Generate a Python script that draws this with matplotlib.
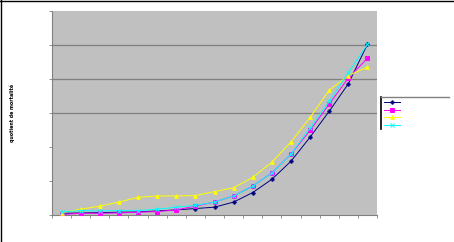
import matplotlib
matplotlib.use("Agg")
import matplotlib.pyplot as plt
import numpy as np
from matplotlib.lines import Line2D

# categories (17 age classes, labels not shown in the reference)
categories = list(range(17))

navy = [0.05, 0.06, 0.07, 0.08, 0.09, 0.12, 0.15, 0.19, 0.23, 0.38, 0.66,
        1.05, 1.58, 2.29, 3.05, 3.86, 5.02]
magenta = [0.01, 0.05, 0.05, 0.06, 0.08, 0.10, 0.15, 0.26, 0.38, 0.56, 0.85,
           1.24, 1.79, 2.49, 3.26, 4.03, 4.61]
yellow = [0.07, 0.17, 0.26, 0.38, 0.52, 0.56, 0.56, 0.57, 0.69, 0.80, 1.11,
          1.55, 2.15, 2.87, 3.67, 4.10, 4.35]
cyan = [0.09, 0.13, 0.12, 0.13, 0.13, 0.17, 0.23, 0.28, 0.38, 0.56, 0.85,
        1.24, 1.79, 2.56, 3.34, 4.19, 5.02]

series = [
    (navy, '#000080', 'P', 2.4),
    (magenta, '#FF00FF', 's', 2.6),
    (yellow, '#FFFF00', '^', 2.6),
    (cyan, '#00FFFF', 'x', 2.6),
]

W, H = 454, 242
fig = plt.figure(figsize=(W / 100, H / 100), dpi=100)
fig.patch.set_facecolor('white')

ax = fig.add_axes([52 / W, (H - 215) / H, 325 / W, 204 / H])
ax.set_facecolor('#C0C0C0')

x = np.array(categories)
for vals, col, mk, ms in series:
    ax.plot(x, vals, color=col, linewidth=0.7, marker=mk, markersize=ms,
            markeredgewidth=0.7, zorder=3)

ax.set_xlim(-0.5, len(categories) - 0.5)
ax.set_ylim(0, 6)
for yv in [3, 4, 5]:
    ax.axhline(yv, color='#808080', linewidth=0.9, zorder=1)

ax.set_xticks(np.arange(-0.5, len(categories), 1.0))
ax.set_yticks(range(0, 7))
ax.set_xticklabels([])
ax.set_yticklabels([])
ax.tick_params(axis='both', direction='out', length=2, width=0.6, color='#808080')
for s in ['top', 'right']:
    ax.spines[s].set_visible(False)
for s in ['left', 'bottom']:
    ax.spines[s].set_color('#808080')
    ax.spines[s].set_linewidth(0.8)

fig.text(12 / W, 1 - 113 / H, 'quotient de mortalité', rotation=90,
         ha='center', va='center', fontsize=3.8, fontweight='bold',
         fontstretch='condensed', color='black')

# legend box with empty labels
lax = fig.add_axes([381 / W, (H - 129) / H, 68 / W, 32 / H])
lax.set_xticks([])
lax.set_yticks([])
lax.patch.set_alpha(0)
for s in ['right', 'bottom']:
    lax.spines[s].set_visible(False)
lax.spines['top'].set_color('#808080')
lax.spines['left'].set_color('black')
lax.spines['top'].set_linewidth(1.0)
lax.spines['left'].set_linewidth(1.2)
handles = [Line2D([], [], color=col, marker=mk, markersize=ms, linewidth=0.7,
                  markeredgewidth=0.7) for _, col, mk, ms in series]
lax.legend(handles, ['', '', '', ''], loc='upper left', frameon=False,
           handlelength=3.0, handleheight=0.5, labelspacing=0.5, borderpad=0.45,
           borderaxespad=0.0, handletextpad=0.2, fontsize=4.0)

# black border at top and left of the image
fig.add_artist(Line2D([0, 1], [1 - 0.5 / H, 1 - 0.5 / H], color='black', linewidth=1.0))
fig.add_artist(Line2D([0.5 / W, 0.5 / W], [0, 1], color='black', linewidth=1.0))

fig.savefig('out.png', dpi=100)
